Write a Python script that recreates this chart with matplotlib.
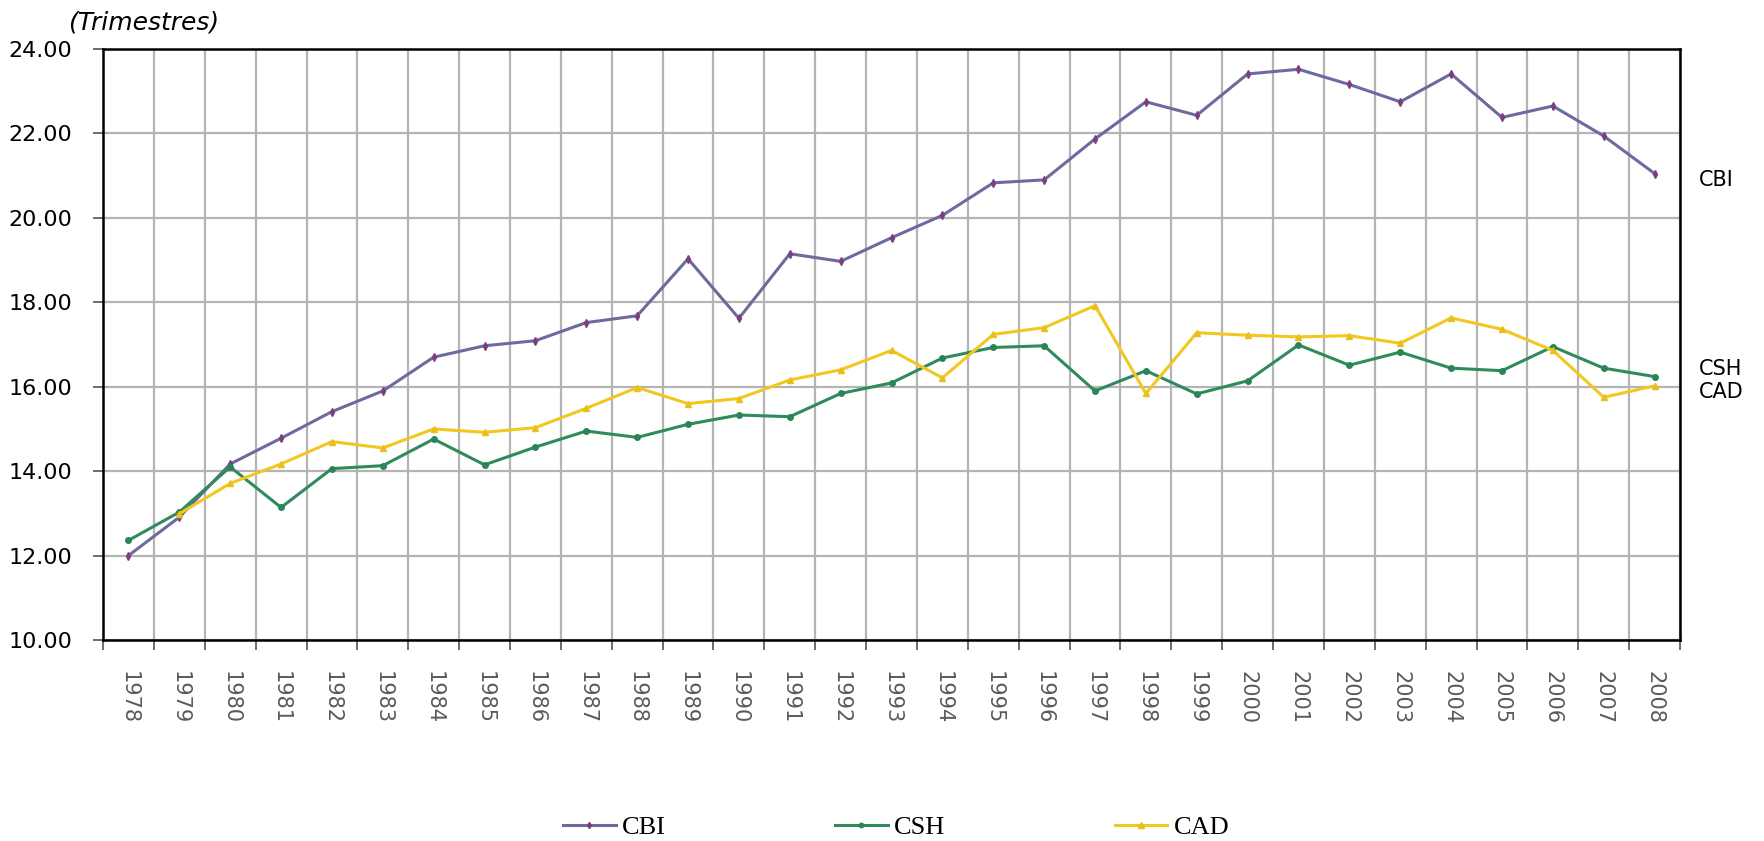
"""Durée moyenne (trimestres) CBI / CSH / CAD, 1978-2008."""

import matplotlib

matplotlib.use("Agg")
import matplotlib.pyplot as plt  # noqa: E402
import numpy as np  # noqa: E402
from matplotlib.ticker import FixedLocator, FormatStrFormatter  # noqa: E402

years = [str(y) for y in range(1978, 2009)]

cbi = [12.00, 12.91, 14.17, 14.78, 15.41, 15.90, 16.70, 16.97, 17.09, 17.52,
       17.68, 19.03, 17.62, 19.15, 18.97, 19.53, 20.06, 20.83, 20.90, 21.87,
       22.75, 22.43, 23.41, 23.52, 23.16, 22.75, 23.41, 22.38, 22.65, 21.94,
       21.05]
csh = [12.36, 13.03, 14.10, 13.14, 14.06, 14.13, 14.76, 14.15, 14.57, 14.95,
       14.80, 15.11, 15.33, 15.29, 15.84, 16.09, 16.68, 16.93, 16.97, 15.90,
       16.38, 15.83, 16.14, 16.99, 16.51, 16.82, 16.44, 16.38, 16.95, 16.44,
       16.24]
cad = [None, 12.99, 13.71, 14.17, 14.70, 14.55, 15.00, 14.92, 15.03, 15.49,
       15.98, 15.60, 15.72, 16.16, 16.40, 16.86, 16.21, 17.24, 17.40, 17.92,
       15.84, 17.28, 17.22, 17.18, 17.21, 17.03, 17.63, 17.36, 16.86, 15.75,
       16.02]

series = [
    ("CBI", cbi, "#6c6a9e", "#7b3f7e", "d", 4),
    ("CSH", csh, "#2f8a5c", "#2a8556", "o", 4),
    ("CAD", cad, "#f2c71f", "#e9bf1c", "^", 5),
]
end_labels = {"CBI": 20.9, "CSH": 16.42, "CAD": 15.88}

x = np.arange(len(years))

fig = plt.figure(figsize=(17.64, 8.41), dpi=100)
ax = fig.add_axes([0.0584, 0.2390, 0.8940, 0.7027])

for name, values, line_col, mark_col, marker, msize in series:
    vals = np.array([np.nan if v is None else v for v in values], dtype=float)
    ax.plot(x, vals, color=line_col, lw=2.2, marker=marker, markersize=msize,
            markerfacecolor=mark_col, markeredgecolor=mark_col, label=name,
            zorder=3)
    ax.text(1.012, end_labels[name], name, transform=ax.get_yaxis_transform(),
            fontsize=15, family="DejaVu Sans", va="center", ha="left")

ax.set_xlim(-0.5, len(years) - 0.5)
ax.set_ylim(10, 24)

ax.xaxis.set_major_locator(FixedLocator(x))
ax.set_xticklabels(years, rotation=270, fontsize=15, color="#5a5a5a",
                   family="DejaVu Sans")
ax.xaxis.set_minor_locator(FixedLocator(np.arange(-0.5, len(years), 1.0)))
ax.tick_params(axis="x", which="major", length=0, pad=22)
ax.tick_params(axis="x", which="minor", length=7, width=1.2, color="#555555",
               direction="out")

ax.set_yticks(np.arange(10, 25, 2))
ax.yaxis.set_major_formatter(FormatStrFormatter("%.2f"))
ax.tick_params(axis="y", length=7, width=1.2, color="#555555", pad=15,
               labelsize=16)
for lab in ax.get_yticklabels():
    lab.set_family("DejaVu Sans")

ax.grid(True, axis="y", which="major", color="#b4b4b4", lw=1.6)
ax.grid(True, axis="x", which="minor", color="#b4b4b4", lw=1.6)
ax.set_axisbelow(True)
for spine in ax.spines.values():
    spine.set_color("black")
    spine.set_linewidth(1.8)

fig.text(0.0385, 0.973, "(Trimestres)", fontsize=18, style="italic",
         family="DejaVu Sans", va="center", ha="left")

fig.legend(loc="center", bbox_to_anchor=(0.508, 0.016), ncol=3, frameon=False,
           prop={"family": "Liberation Serif", "size": 19}, handlelength=2.0,
           handletextpad=0.25, columnspacing=6.4, markerscale=0.8)

fig.savefig("out.png", dpi=100)
